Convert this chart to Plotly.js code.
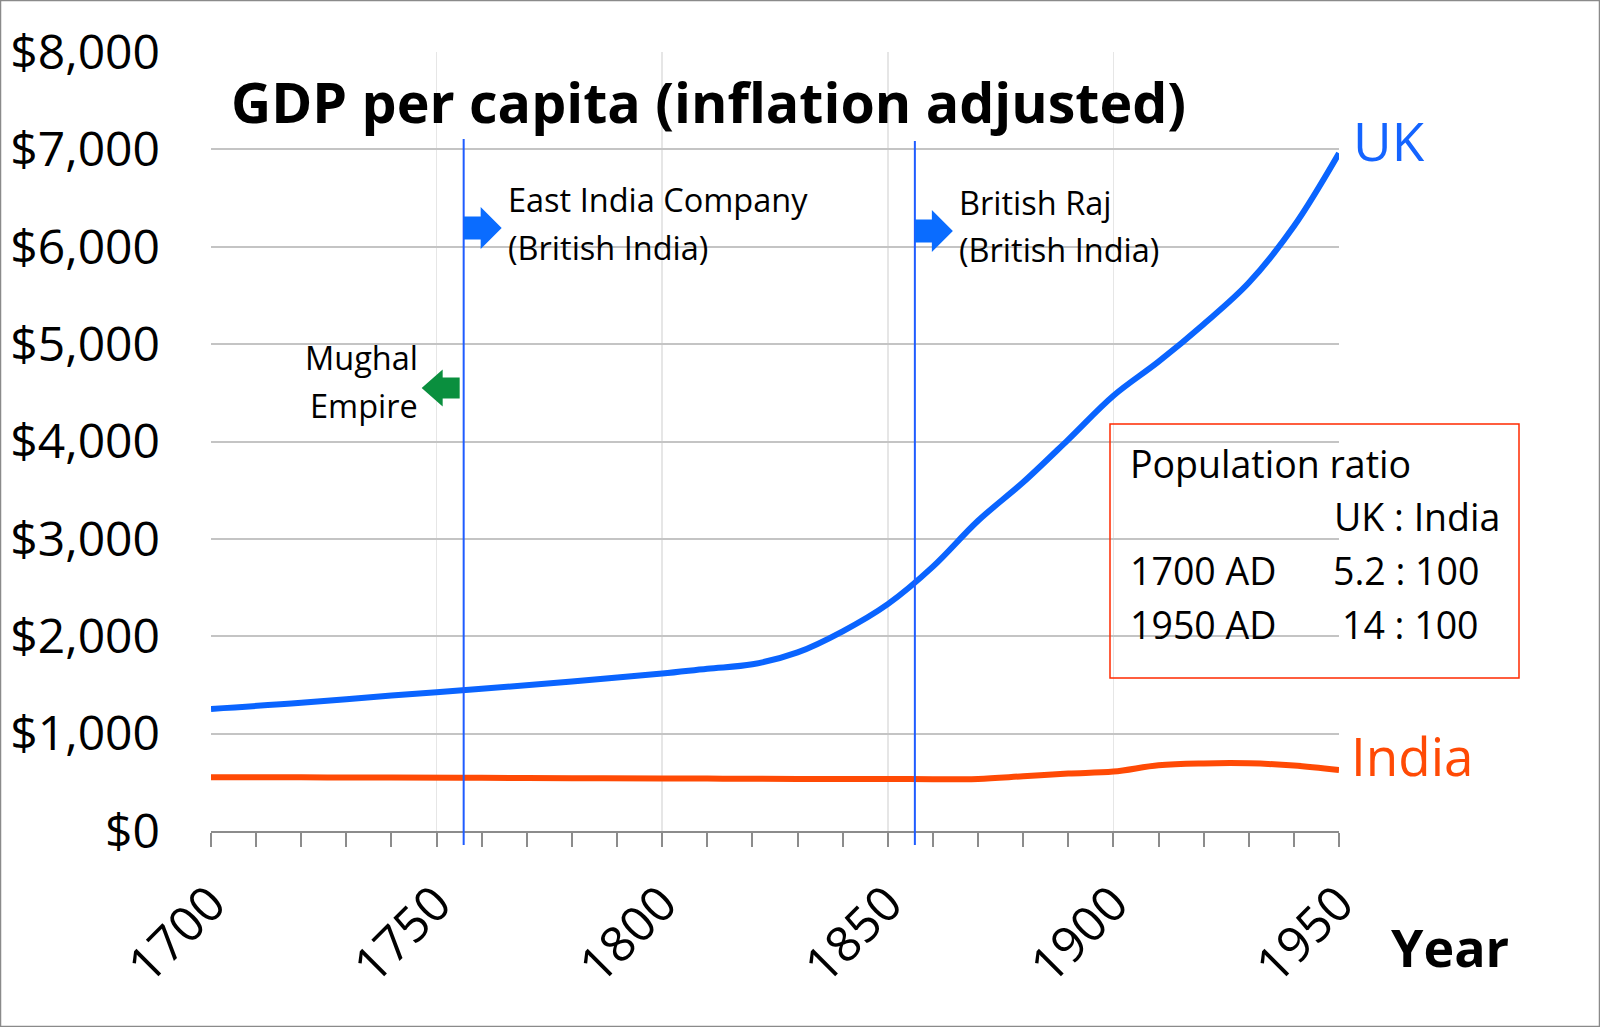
<!DOCTYPE html>
<html>
<head>
<meta charset="utf-8">
<script src="https://cdn.plot.ly/plotly-3.0.1.min.js"></script>
<style>
  body { margin: 0; background: #fff; }
  #chart { width: 1600px; height: 1027px; }
</style>
</head>
<body>
<div id="chart"></div>
<script>
// GDP per capita
var years   = [1700, 1720, 1740, 1760, 1780, 1800, 1810, 1820, 1830, 1840, 1850,
               1860, 1870, 1880, 1890, 1900, 1910, 1920, 1930, 1940, 1950];
var ukGdp   = [1254, 1316, 1391, 1460, 1535, 1617, 1667, 1712, 1834, 2051, 2330,
               2715, 3186, 3581, 4020, 4470, 4820, 5205, 5630, 6210, 6960];
var indiaGdp = [553, 551, 549, 546, 543, 540, 538, 536, 535, 534, 535,
                531, 535, 562, 590, 610, 675, 694, 695, 672, 625];

var eventYears = [1756, 1856];          // East India Company, British Raj
var eventLabels = [["East India Company", "(British India)"],
                   ["British Raj", "(British India)"]];
var mughalLabel = ["Mughal", "Empire"];

var ratioRows = [["1700 AD", "5.2 : 100"], ["1950 AD", "14 : 100"]];

// page geometry (pixels) -> paper fractions
var L = 211, R = 1339, T = 52, B = 831;
function px(x) { return (x - L) / (R - L); }
function py(y) { return (B - y) / (B - T); }

var FONT = "'Open Sans', 'Noto Sans', sans-serif";
var UK_BLUE = "#0a64ff", INDIA_RED = "#ff4a05";

var traces = [
  { x: years, y: ukGdp, type: "scatter", mode: "lines", name: "UK",
    line: { color: UK_BLUE, width: 6, shape: "spline", smoothing: 1 }, hoverinfo: "x+y" },
  { x: years, y: indiaGdp, type: "scatter", mode: "lines", name: "India",
    line: { color: INDIA_RED, width: 6, shape: "spline", smoothing: 1 }, hoverinfo: "x+y" }
];

function txt(text, x, y, anchor, size, color, bold) {
  return { text: bold ? "<b>" + text + "</b>" : text, xref: "paper", yref: "paper",
           x: px(x), y: py(y), xanchor: anchor, yanchor: "middle", showarrow: false,
           font: { family: FONT, size: size, color: color || "#000" } };
}

var annotations = [
  txt("GDP per capita (inflation adjusted)", 229, 102, "left", 55.5, "#000", true),
  txt("Year", 1450, 946, "center", 52, "#000", true),
  txt("UK", 1351, 140, "left", 53, "#1464ff"),
  txt("India", 1349, 755, "left", 53, INDIA_RED),
  txt(eventLabels[0][0], 506, 200, "left", 32.5),
  txt(eventLabels[0][1], 506, 247, "left", 32.5),
  txt(eventLabels[1][0], 957, 202, "left", 32.5),
  txt(eventLabels[1][1], 957, 250, "left", 32.5),
  txt(mughalLabel[0], 420, 357, "right", 32.5),
  txt(mughalLabel[1], 420, 405, "right", 32.5),
  txt("Population ratio", 1128, 463, "left", 37.5),
  txt("UK : India", 1502, 516, "right", 37.5),
  txt(ratioRows[0][0], 1128, 570, "left", 37.5),
  txt(ratioRows[0][1], 1481, 570, "right", 37.5),
  txt(ratioRows[1][0], 1128, 624, "left", 37.5),
  txt(ratioRows[1][1], 1481, 624, "right", 37.5)
];

var rightArrow = "M 0,-11.5 L 17,-11.5 L 17,-21 L 38,0 L 17,21 L 17,11.5 L 0,11.5 Z";
var leftArrow  = "M -4,-10.5 L -21,-10.5 L -21,-18.5 L -42,0 L -21,18.5 L -21,10.5 L -4,10.5 Z";

var shapes = [
  // outer frame
  { type: "rect", xref: "paper", yref: "paper", x0: px(0.5), x1: px(1599.5), y0: py(1026.5), y1: py(0.5),
    line: { color: "#8a8a8a", width: 1.5 } },
  // population ratio box
  { type: "rect", xref: "paper", yref: "paper", x0: px(1110), x1: px(1519), y0: py(678), y1: py(424),
    line: { color: "#ff2a00", width: 1.5 } },
  // green arrow (Mughal Empire, pointing back)
  { type: "path", xref: "x", yref: "paper", xsizemode: "pixel", ysizemode: "pixel",
    xanchor: eventYears[0], yanchor: py(388), path: leftArrow,
    fillcolor: "#0a8f3e", line: { width: 0 } }
];
eventYears.forEach(function (yr, i) {
  shapes.push({ type: "line", xref: "x", yref: "paper", x0: yr, x1: yr,
                y0: py(845), y1: py(i === 0 ? 139 : 141),
                line: { color: "#1f5cff", width: 2 } });
  shapes.push({ type: "path", xref: "x", yref: "paper", xsizemode: "pixel", ysizemode: "pixel",
                xanchor: yr, yanchor: py(i === 0 ? 228 : 231), path: rightArrow,
                fillcolor: "#0a6cff", line: { width: 0 } });
});

var layout = {
  width: 1600, height: 1027,
  margin: { l: L, r: 1600 - R, t: T, b: 1027 - B },
  paper_bgcolor: "#fff", plot_bgcolor: "#fff",
  showlegend: false,
  font: { family: FONT, color: "#000" },
  xaxis: {
    range: [1700, 1950], tick0: 1700, dtick: 50, automargin: false,
    showgrid: true, gridcolor: "#e6e6e6", gridwidth: 1.5,
    showline: true, linecolor: "#8c8c8c", linewidth: 2,
    ticks: "outside", ticklen: 14, tickwidth: 2, tickcolor: "#8c8c8c",
    minor: { dtick: 10, ticks: "outside", ticklen: 14, tickwidth: 2, tickcolor: "#8c8c8c", showgrid: false },
    tickangle: -45, tickfont: { size: 49, family: FONT, color: "#000" },
    ticklabelstandoff: 8, zeroline: false
  },
  yaxis: {
    range: [0, 8000], dtick: 1000, automargin: false,
    showgrid: true, gridcolor: "#c4c4c4", gridwidth: 2,
    zeroline: false, showline: false, ticks: "",
    tickprefix: "$", tickformat: ",d",
    tickfont: { size: 48, family: FONT, color: "#000" },
    ticklabelstandoff: 50
  },
  annotations: annotations,
  shapes: shapes
};

Plotly.newPlot("chart", traces, layout, { displayModeBar: false, staticPlot: true });
</script>
</body>
</html>
